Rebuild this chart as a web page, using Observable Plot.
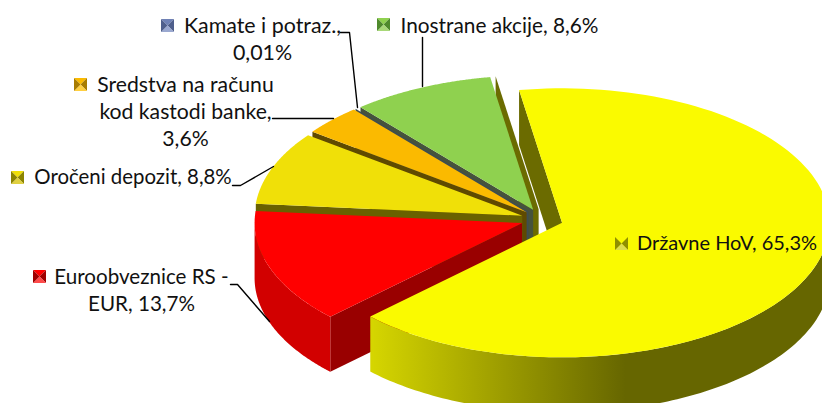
<!DOCTYPE html>
<html>
<head>
<meta charset="utf-8">
<script src="https://cdn.jsdelivr.net/npm/d3@7"></script>
<script src="https://cdn.jsdelivr.net/npm/@observablehq/plot@0.6"></script>
<style>html,body{margin:0;padding:0;background:#fff}svg{display:block}</style>
</head>
<body>
<div id="chart"></div>
<script>
// data: clockwise from the start of the pie
const categories = ["Državne HoV", "Euroobveznice RS - EUR", "Oročeni depozit", "Sredstva na računu kod kastodi banke", "Kamate i potraz.", "Inostrane akcije", ""];
const shares = [65.3, 13.7, 8.8, 3.6, 0.01, 8.6, 0];
const faceColors = ["#fafa00", "#ff0000", "#f0e008", "#fbba00", "#6f81b5", "#8fd14f", "#6b6b00"];
const wallColors = ["#6b6b00", "#990000", "#696100", "#5f4a00", "#3d4d52", "#46533c", "#6b6b00"];
const labels = ["Državne HoV, 65,3%", "Euroobveznice RS -\nEUR, 13,7%", "Oročeni depozit, 8,8%", "Sredstva na računu\nkod kastodi banke,\n3,6%", "Kamate i potraz.,\n0,01%", "Inostrane akcije, 8,6%"];

// layout of the oblique projection
const W = 822, H = 403;
const cx = 541.5, cy = 219, rx = 267.5, ry = 134.5, depth = 55, explode = 0.079;
const startDeg = -9.25;
const total = d3.sum(shares);
const rad = d => d * Math.PI / 180;

const slices = [];
{
  let a = startDeg;
  shares.forEach((v, i) => {
    const a1 = a + v / total * 360;
    const mid = rad((a + a1) / 2);
    slices.push({i, a0: a, a1, ax: cx + Math.sin(mid) * rx * explode, ay: cy - Math.cos(mid) * ry * explode});
    a = a1;
  });
}
const rim = (s, deg, dz = 0) => ({x: s.ax + Math.sin(rad(deg)) * rx, y: s.ay - Math.cos(rad(deg)) * ry + dz});
const arcPts = (s, d0, d1, dz = 0) => d3.range(0, 121).map(k => rim(s, d0 + (d1 - d0) * k / 120, dz));
const apex = (s, dz = 0) => ({x: s.ax, y: s.ay + dz});

const poly = (pts, fill) => Plot.line(pts, {x: "x", y: "y", fill, stroke: "none"});
const topFace = s => poly([apex(s), ...arcPts(s, s.a0, s.a1)], faceColors[s.i]);
const startWall = (s, fill = wallColors[s.i]) => poly([apex(s), rim(s, s.a0), rim(s, s.a0, depth), apex(s, depth)], fill);
const outerWall = (s, d0, d1, fill) => poly([...arcPts(s, d0, d1), ...arcPts(s, d1, d0, depth)], fill);

const [yellow, red, gold, orange, slate, green, zero] = slices;

// labels, keys, leaders
const labelPos = [[726.5, 241], [141, 288.5], [132.5, 175.5], [185, 109.5], [262, 37.5], [499, 23.5]];
const labelSize = [20, 20.6, 20.4, 21.2, 21.4, 20.8];
const keyPos = [[621, 243], [39, 276], [17, 177], [80, 84], [167, 25], [383, 24]];
const keyLight = ["#dcdc50", "#ff4a4a", "#e0d040", "#ffcf40", "#9aa8d0", "#a8d878"];
const keyDark = ["#8f8f00", "#a00000", "#8c8400", "#a87c00", "#4f5f8c", "#4f8a2c"];
const leaders = [
  [[340, 32], [349, 32], [357, 107]],
  [[422, 37], [422, 86]],
  [[272, 118], [333, 118]],
  [[232, 185], [240, 185], [273, 166]],
  [[230, 284], [237, 284], [269, 321]]
];

const K = 6.5;
const keyMarks = keyPos.flatMap(([x, y], i) => {
  const c = {x, y};
  const a = {x: x - K, y: y - K}, b = {x: x + K, y: y - K}, d = {x: x + K, y: y + K}, e = {x: x - K, y: y + K};
  return [
    poly([a, b, c], faceColors[i]),
    poly([b, d, c], keyDark[i]),
    poly([d, e, c], keyLight[i]),
    poly([e, a, c], keyDark[i])
  ];
});

const chart = Plot.plot({
  width: W, height: H,
  margin: 0,
  x: {domain: [0, W], range: [0, W], axis: null},
  y: {domain: [0, H], range: [0, H], axis: null},
  style: {background: "#fff", overflow: "hidden"},
  marks: [
    startWall(zero),
    startWall(green), topFace(green),
    startWall(slate),
    startWall(orange), topFace(orange),
    startWall(gold), topFace(gold),
    startWall(red), outerWall(red, red.a0, 270, "#d20000"), topFace(red),
    startWall(yellow),
    outerWall(yellow, 90, yellow.a1, "url(#yellowWall)"), topFace(yellow),
    ...leaders.map(l => Plot.line(l, {x: d => d[0], y: d => d[1], stroke: "#000", strokeWidth: 1.4})),
    ...keyMarks,
    Plot.text(labels, {
      x: (d, i) => labelPos[i][0], y: (d, i) => labelPos[i][1],
      text: d => d, textAnchor: "middle", lineAnchor: "middle",
      fontSize: (d, i) => labelSize[i], lineHeight: 1.28, fill: "#111",
      fontFamily: "Lato, 'Noto Sans', sans-serif"
    })
  ]
});
chart.insertAdjacentHTML("afterbegin", `<defs><linearGradient id="yellowWall" gradientUnits="userSpaceOnUse" x1="370" y1="0" x2="625" y2="0"><stop offset="0" stop-color="#d6d600"/><stop offset="1" stop-color="#666600"/></linearGradient></defs>`);
document.getElementById("chart").append(chart);
</script>
</body>
</html>
